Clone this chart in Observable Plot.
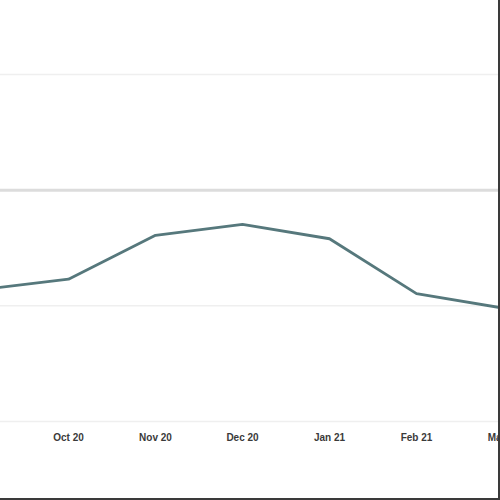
<!DOCTYPE html>
<html>
<head>
<meta charset="utf-8">
<script src="https://cdn.jsdelivr.net/npm/d3@7"></script>
<script src="https://cdn.jsdelivr.net/npm/@observablehq/plot@0.6"></script>
<style>
  html, body { margin: 0; padding: 0; background: #fff; }
  #wrap { width: 498px; height: 498px; border-right: 2px solid #3a3a3a; border-bottom: 2px solid #3a3a3a; overflow: hidden; }
</style>
</head>
<body>
<div id="wrap"></div>
<script>
const months = ["Sep 20", "Oct 20", "Nov 20", "Dec 20", "Jan 21", "Feb 21", "Mar 21"];
const values = [22.8, 24.6, 32.2, 34.1, 31.6, 22.1, 19.6];
const tickLabels = ["Oct 20", "Nov 20", "Dec 20", "Jan 21", "Feb 21", "Mar 21"];
const gridValues = [0, 20, 60];
const strongGrid = [40];

const data = months.map((m, i) => ({month: m, value: values[i]}));

const chart = Plot.plot({
  width: 498,
  height: 498,
  marginTop: 74,
  marginBottom: 77,
  marginLeft: 0,
  marginRight: 0,
  style: {fontFamily: "Liberation Sans, Arial, sans-serif", fontSize: "10px", color: "#333", background: "#fff"},
  x: {type: "point", domain: months, range: [-20.5, 504.5], padding: 0, label: null, axis: null},
  y: {domain: [0, 60], axis: null, label: null},
  marks: [
    Plot.ruleY(gridValues, {stroke: "#efefef", strokeWidth: 1.5}),
    Plot.ruleY(strongGrid, {stroke: "#dcdcdc", strokeWidth: 3}),
    Plot.axisX({ticks: tickLabels, tickSize: 0, tickPadding: 12, fill: "#3a3a3a", fontSize: 10, fontWeight: "bold", label: null}),
    Plot.line(data, {x: "month", y: "value", stroke: "#56787c", strokeWidth: 2.8, strokeLinejoin: "round"})
  ]
});
document.getElementById("wrap").appendChild(chart);
</script>
</body>
</html>
